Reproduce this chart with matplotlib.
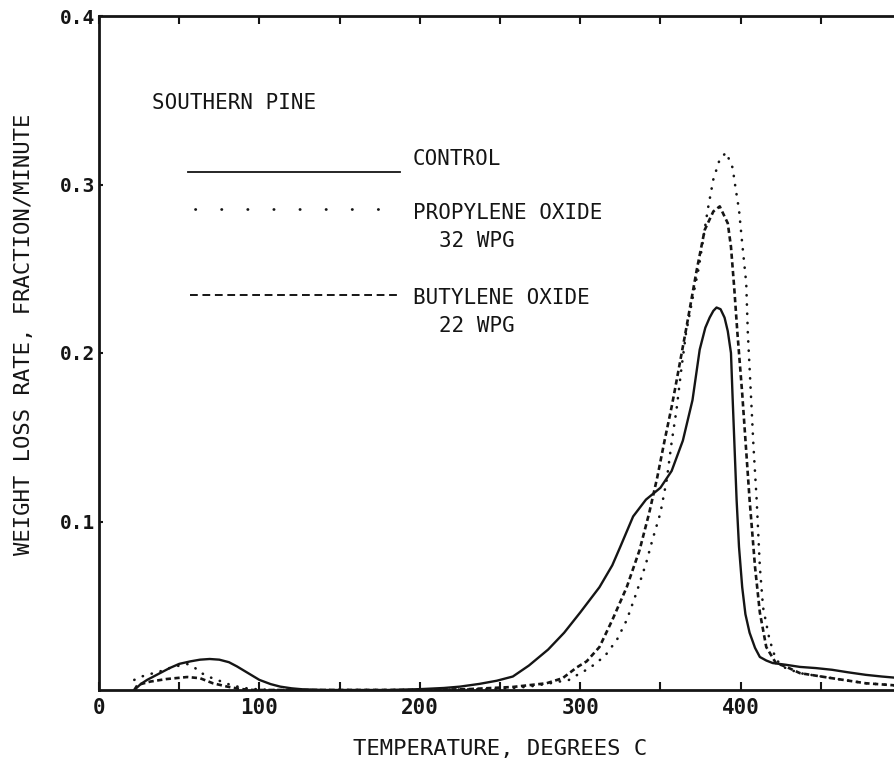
import matplotlib
matplotlib.use("Agg")
import matplotlib.pyplot as plt
from matplotlib.lines import Line2D
from matplotlib.ticker import MultipleLocator, FuncFormatter

# ---------------- data ----------------
control_x = [22, 26, 30, 37, 44, 50, 57, 63, 69, 75, 81, 86, 93, 100, 107, 113, 120,
             127, 140, 160, 180, 200, 215, 225, 237, 248, 258, 268, 280, 290, 300,
             312, 320, 325, 333, 341, 350, 357, 364, 370, 374.5, 378, 380.7, 383,
             385, 387.5, 390, 392, 394, 395, 397.5, 399, 401, 403, 405.6, 409, 412,
             416, 420, 428, 437, 447, 457, 467, 478, 488, 500]
control_y = [0.0, 0.0035, 0.006, 0.0095, 0.013, 0.0155, 0.017, 0.018, 0.0184, 0.018,
             0.0165, 0.014, 0.01, 0.006, 0.0035, 0.002, 0.001, 0.0004, 0.0, 0.0, 0.0,
             0.0005, 0.0012, 0.002, 0.0036, 0.0055, 0.008, 0.0145, 0.024, 0.034, 0.046,
             0.061, 0.074, 0.085, 0.103, 0.113, 0.12, 0.13, 0.148, 0.172, 0.202, 0.215,
             0.221, 0.225, 0.227, 0.226, 0.221, 0.213, 0.2, 0.174, 0.113, 0.085, 0.061,
             0.045, 0.034, 0.025, 0.0196, 0.0175, 0.016, 0.015, 0.0137, 0.013, 0.012,
             0.0105, 0.009, 0.008, 0.007]

propylene_x = [22, 25.5, 32, 38, 44, 50, 55, 60, 62, 68, 75, 82, 90, 100, 110, 150,
               200, 240, 258, 268, 279, 287, 293, 300, 306, 311, 315, 323, 329, 335,
               341, 345, 350, 354, 357, 360, 363, 366, 370, 374, 379.5, 383, 387, 391,
               395, 397, 399, 401, 403.5, 404.5, 406.5, 408, 410, 412, 414, 418, 422,
               428, 437, 457, 478, 500]
propylene_y = [0.006, 0.0077, 0.0095, 0.011, 0.013, 0.0145, 0.0154, 0.013, 0.011,
               0.008, 0.0055, 0.003, 0.0012, 0.0003, 0.0, 0.0, 0.0, 0.0005, 0.0012,
               0.002, 0.0036, 0.005, 0.006, 0.010, 0.013, 0.017, 0.0196, 0.03, 0.0415,
               0.0575, 0.075, 0.089, 0.105, 0.125, 0.147, 0.166, 0.19, 0.212, 0.232,
               0.251, 0.285, 0.303, 0.315, 0.319, 0.31, 0.297, 0.285, 0.265, 0.2415,
               0.212, 0.174, 0.145, 0.113, 0.073, 0.049, 0.030, 0.018, 0.013, 0.010,
               0.007, 0.004, 0.0025]

butylene_x = [22, 24, 32, 42, 55, 63, 71, 80, 88, 96, 150, 200, 230, 258, 279, 289,
              298, 304, 312, 320, 329, 337, 343, 348, 352.6, 357, 359, 366, 372.6,
              377.6, 383, 387, 392, 394, 396, 398, 401, 405.6, 409, 412, 416, 422,
              428.6, 437, 457, 478, 500]
butylene_y = [0.0, 0.003, 0.005, 0.0065, 0.0077, 0.007, 0.004, 0.002, 0.0006, 0.0,
              0.0, 0.0, 0.0005, 0.0018, 0.004, 0.007, 0.0135, 0.017, 0.0255, 0.0415,
              0.061, 0.083, 0.105, 0.126, 0.148, 0.168, 0.178, 0.214, 0.249, 0.273,
              0.284, 0.287, 0.277, 0.263, 0.239, 0.212, 0.176, 0.113, 0.073, 0.046,
              0.0255, 0.016, 0.0137, 0.010, 0.007, 0.004, 0.0025]

x_ticks = [0, 100, 200, 300, 400]
y_ticks = [0.1, 0.2, 0.3, 0.4]

# ---------------- figure ----------------
W, H = 894, 767
fig = plt.figure(figsize=(W / 100, H / 100), dpi=100)
fig.patch.set_facecolor("white")

def fx(px):
    return px / W

def fy(py):
    return 1 - py / H

ax = fig.add_axes([fx(99), fy(690), (901 - 99) / W, (690 - 16) / H])
ax.set_xlim(0, 500)
ax.set_ylim(0, 0.4)

ink = "#151515"
mono = ["DejaVu Sans Mono"]

ax.plot(control_x, control_y, color=ink, lw=1.7, solid_joinstyle="round")
ax.plot(propylene_x, propylene_y, color=ink, lw=1.9,
        linestyle=(0, (0.1, 3.4)), dash_capstyle="round")
ax.plot(butylene_x, butylene_y, color=ink, lw=1.9,
        linestyle=(0, (2.0, 1.3)))

for s in ["left", "bottom", "top"]:
    ax.spines[s].set_linewidth(2.0)
    ax.spines[s].set_color(ink)
ax.spines["right"].set_visible(False)

ax.xaxis.set_minor_locator(MultipleLocator(50))
ax.set_xticks(x_ticks)
ax.set_yticks(y_ticks)
ax.tick_params(axis="x", which="both", direction="in", length=6, width=1.5,
               top=True, bottom=True, color=ink, pad=6)
ax.tick_params(axis="y", which="both", direction="in", length=3, width=1.5,
               left=True, right=False, color=ink, pad=3)
ax.yaxis.set_major_formatter(FuncFormatter(lambda v, p: f"{v:.1f}"))
for lab in ax.get_xticklabels():
    lab.set_fontfamily(mono)
    lab.set_fontweight("bold")
    lab.set_fontsize(15)
    lab.set_color(ink)
for lab in ax.get_yticklabels():
    lab.set_fontfamily(mono)
    lab.set_fontweight("bold")
    lab.set_fontsize(14)
    lab.set_color(ink)

fig.text(fx(500), fy(749), "TEMPERATURE, DEGREES C", family=mono, fontsize=16,
         ha="center", va="center", color=ink)
fig.text(fx(24), fy(334), "WEIGHT LOSS RATE, FRACTION/MINUTE", family=mono,
         fontsize=16, rotation=90, ha="center", va="center", color=ink)

# ---------------- annotation / key ----------------
fs = 15
fig.text(fx(152), fy(103), "SOUTHERN PINE", family=mono, fontsize=fs,
         ha="left", va="center", color=ink)

fig.add_artist(Line2D([fx(188), fx(400)], [fy(172), fy(172)], color=ink, lw=1.3))
fig.text(fx(413), fy(159), "CONTROL", family=mono, fontsize=fs, ha="left",
         va="center", color=ink)

fig.add_artist(Line2D([fx(195), fx(382)], [fy(209), fy(209)], color=ink, lw=2.0,
                      linestyle=(0, (0.1, 9.3)), dash_capstyle="round"))
fig.text(fx(413), fy(213), "PROPYLENE OXIDE", family=mono, fontsize=fs, ha="left",
         va="center", color=ink)
fig.text(fx(439), fy(241), "32 WPG", family=mono, fontsize=fs, ha="left",
         va="center", color=ink)

fig.add_artist(Line2D([fx(190), fx(400)], [fy(295), fy(295)], color=ink, lw=1.4,
                      linestyle=(0, (4.0, 2.4))))
fig.text(fx(413), fy(298), "BUTYLENE OXIDE", family=mono, fontsize=fs, ha="left",
         va="center", color=ink)
fig.text(fx(439), fy(326), "22 WPG", family=mono, fontsize=fs, ha="left",
         va="center", color=ink)

fig.savefig("out.png", dpi=100, facecolor="white")
